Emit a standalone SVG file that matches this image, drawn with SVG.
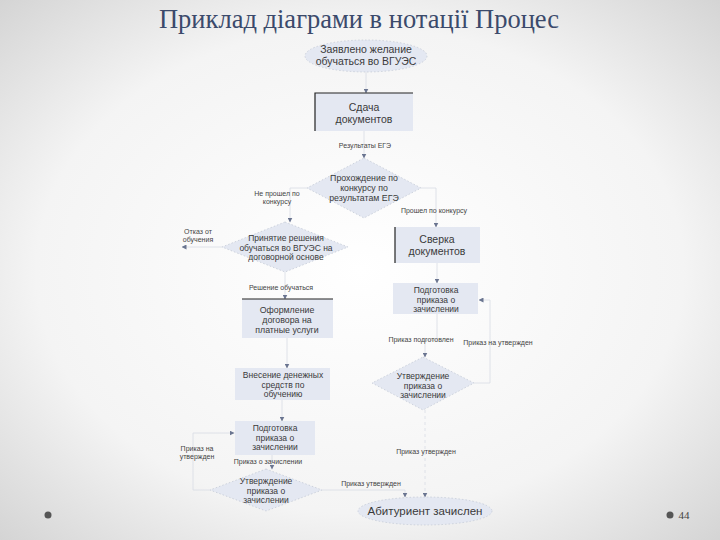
<svg xmlns="http://www.w3.org/2000/svg" width="720" height="540" viewBox="0 0 720 540">
<defs>
<radialGradient id="bg" cx="50%" cy="50%" r="75%">
<stop offset="0" stop-color="#ffffff"/>
<stop offset="0.6" stop-color="#f4f4f4"/>
<stop offset="1" stop-color="#cfcfcf"/>
</radialGradient>
<marker id="ah" markerWidth="5" markerHeight="5" refX="4.5" refY="2.5" orient="auto" markerUnits="userSpaceOnUse">
<path d="M0,0 L5,2.5 L0,5 z" fill="#6a7590"/>
</marker>
<style>
.t{font-family:"Liberation Sans",Arial,sans-serif;fill:#3a3a3a;text-anchor:middle}
.lb{font-family:"Liberation Sans",Arial,sans-serif;fill:#444;font-size:7px;text-anchor:middle}
.sh{fill:#e4e8f2}
.dsh{fill:#e4e8f2;stroke:#c4cad6;stroke-width:0.8;stroke-dasharray:1.5,2}
.dk{stroke:#222;stroke-width:1.2;fill:none}
.cn{stroke:#d8dce4;stroke-width:0.8;fill:none;marker-end:url(#ah)}
</style>
</defs>
<rect width="720" height="540" fill="url(#bg)"/>
<text x="359" y="28" font-family="'Liberation Serif',serif" font-size="26.5" fill="#3b4a6b" text-anchor="middle">Приклад діаграми в нотації Процес</text>

<g id="connectors">
<path class="cn" d="M366,72 V93"/>
<path class="cn" d="M364,131 V158"/>
<path class="cn" d="M307,188 H290 V222"/>
<path class="cn" d="M421,188 H436 V227"/>
<path class="cn" d="M222,247 H182"/>
<path class="cn" d="M285,272 V299"/>
<path class="cn" d="M437,263 V283"/>
<path class="cn" d="M437,314 V340 H425 V357"/>
<path class="cn" d="M474,383 H490 V300 H479"/>
<path class="cn" d="M287,338 V368"/>
<path class="cn" d="M282,400 V421"/>
<path class="cn" d="M272,455 V469"/>
<path class="cn" d="M210,490 H193 V433 H234"/>
<path class="cn" d="M322,490 H405 V497"/>
<path class="cn" d="M425,410 V497" stroke-dasharray="3,3"/>
</g>

<g id="start">
<ellipse class="dsh" cx="366" cy="56" rx="61" ry="16"/>
<text class="t" font-size="10.5" x="366" y="53">Заявлено желание</text>
<text class="t" font-size="10.5" x="366" y="65">обучаться во ВГУЭС</text>
</g>

<g id="sdacha">
<rect class="sh" x="315" y="93" width="98" height="38"/>
<path class="dk" d="M315,131 V93 H413"/>
<text class="t" font-size="10.5" x="364" y="111">Сдача</text>
<text class="t" font-size="10.5" x="364" y="123">документов</text>
</g>

<text class="lb" x="365" y="148">Результаты ЕГЭ</text>

<g id="konkurs">
<polygon class="dsh" points="364,158 421,188 364,218 307,188"/>
<text class="t" font-size="8.8" x="364" y="181">Прохождение по</text>
<text class="t" font-size="8.8" x="364" y="191">конкурсу по</text>
<text class="t" font-size="8.8" x="364" y="201">результатам ЕГЭ</text>
</g>

<text class="lb" x="277" y="196">Не прошел по</text>
<text class="lb" x="277" y="204">конкурсу</text>
<text class="lb" x="434" y="213">Прошел по конкурсу</text>

<g id="reshenie">
<polygon class="dsh" points="285,222 348,247 285,272 222,247"/>
<text class="t" font-size="8.5" x="286" y="241">Принятие решения</text>
<text class="t" font-size="8.5" x="286" y="250.5">обучаться во ВГУЭС на</text>
<text class="t" font-size="8.5" x="286" y="260">договорной основе</text>
</g>

<text class="lb" x="198" y="234">Отказ от</text>
<text class="lb" x="198" y="242">обучения</text>
<text class="lb" x="281" y="290">Решение обучаться</text>

<g id="oformlenie">
<rect class="sh" x="242" y="299" width="91" height="39"/>
<path class="dk" d="M242,299 H333"/>
<text class="t" font-size="8.8" x="287" y="313">Оформление</text>
<text class="t" font-size="8.8" x="287" y="323">договора на</text>
<text class="t" font-size="8.8" x="287" y="333">платные услуги</text>
</g>

<g id="sverka">
<rect class="sh" x="395" y="227" width="85" height="36"/>
<path class="dk" d="M395,227 V263"/>
<text class="t" font-size="10.5" x="437" y="243">Сверка</text>
<text class="t" font-size="10.5" x="437" y="255">документов</text>
</g>

<g id="podgotovka1">
<rect class="sh" x="393" y="283" width="85" height="31"/>
<text class="t" font-size="8.5" x="436" y="293">Подготовка</text>
<text class="t" font-size="8.5" x="436" y="302.5">приказа о</text>
<text class="t" font-size="8.5" x="436" y="312">зачислении</text>
</g>

<text class="lb" x="421" y="342">Приказ подготовлен</text>
<text class="lb" x="498" y="345">Приказ на утвержден</text>

<g id="utverzhdenie1">
<polygon class="dsh" points="423,357 474,383 423,410 372,383"/>
<text class="t" font-size="8.5" x="423" y="379">Утверждение</text>
<text class="t" font-size="8.5" x="423" y="388.5">приказа о</text>
<text class="t" font-size="8.5" x="423" y="398">зачислении</text>
</g>

<g id="vnesenie">
<rect class="sh" x="235" y="368" width="95" height="32"/>
<text class="t" font-size="8.5" x="283" y="378">Внесение денежных</text>
<text class="t" font-size="8.5" x="283" y="387.5">средств по</text>
<text class="t" font-size="8.5" x="283" y="397">обучению</text>
</g>

<g id="podgotovka2">
<rect class="sh" x="235" y="421" width="80" height="34"/>
<text class="t" font-size="8.5" x="275" y="431">Подготовка</text>
<text class="t" font-size="8.5" x="275" y="440.5">приказа о</text>
<text class="t" font-size="8.5" x="275" y="450">зачислении</text>
</g>

<text class="lb" x="197" y="451">Приказ на</text>
<text class="lb" x="197" y="459">утвержден</text>
<text class="lb" x="268" y="464">Приказ о зачислении</text>

<g id="utverzhdenie2">
<polygon class="dsh" points="266,469 322,490 266,511 210,490"/>
<text class="t" font-size="8.5" x="266" y="484">Утверждение</text>
<text class="t" font-size="8.5" x="266" y="493.5">приказа о</text>
<text class="t" font-size="8.5" x="266" y="503">зачислении</text>
</g>

<text class="lb" x="426" y="454">Приказ утвержден</text>
<text class="lb" x="371" y="486">Приказ утвержден</text>

<g id="end">
<ellipse class="dsh" cx="425" cy="511" rx="67" ry="14"/>
<text class="t" font-size="11.5" x="425" y="515">Абитуриент зачислен</text>
</g>

<circle cx="48" cy="515" r="3.5" fill="#555"/>
<circle cx="670" cy="515" r="3.5" fill="#555"/>
<text x="684" y="519" font-family="'Liberation Serif',serif" font-size="11" fill="#444" text-anchor="middle">44</text>
</svg>
